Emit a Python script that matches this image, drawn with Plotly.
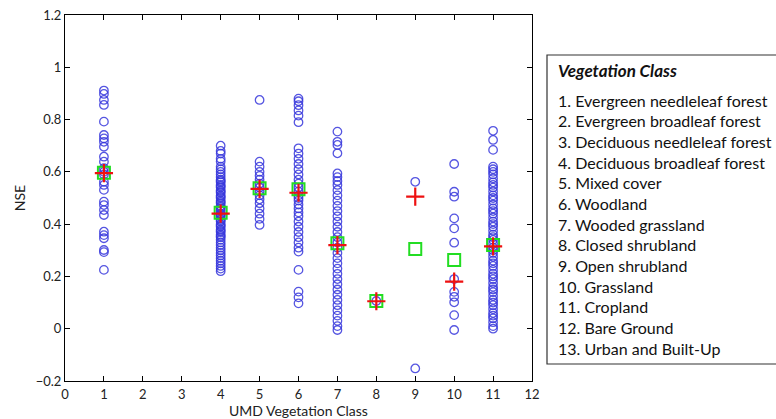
import plotly.graph_objects as go

# ---- data ----
class_ids = [1, 4, 5, 6, 7, 8, 9, 10, 11]

nse_c1 = [0.911, 0.898, 0.875, 0.856, 0.792, 0.741, 0.728, 0.715, 0.696, 0.658, 0.639,
          0.614, 0.60, 0.59, 0.562, 0.55, 0.531, 0.486, 0.473, 0.454, 0.435, 0.371, 0.358,
          0.346, 0.301, 0.293, 0.225]
nse_c4 = [0.70, 0.68, 0.67, 0.65, 0.64, 0.62, 0.61, 0.60, 0.59, 0.58, 0.57, 0.565, 0.56,
          0.55, 0.545, 0.54, 0.53, 0.525, 0.52, 0.51, 0.505, 0.50, 0.49, 0.485, 0.48, 0.47,
          0.465, 0.46, 0.45, 0.44, 0.435, 0.43, 0.42, 0.415, 0.41, 0.40, 0.395, 0.39, 0.38,
          0.375, 0.37, 0.36, 0.355, 0.35, 0.34, 0.33, 0.32, 0.31, 0.30, 0.29, 0.28, 0.27,
          0.26, 0.25, 0.24, 0.23, 0.22]
nse_c5 = [0.875, 0.639, 0.62, 0.60, 0.585, 0.57, 0.555, 0.54, 0.525, 0.51, 0.495, 0.48,
          0.46, 0.44, 0.42, 0.397]
nse_c6 = [0.88, 0.87, 0.855, 0.835, 0.815, 0.79, 0.69, 0.67, 0.65, 0.63, 0.61, 0.59, 0.57,
          0.555, 0.54, 0.525, 0.51, 0.50, 0.49, 0.475, 0.46, 0.445, 0.43, 0.41, 0.39, 0.37,
          0.35, 0.33, 0.31, 0.295, 0.225, 0.142, 0.12, 0.097]
nse_c7 = [0.754, 0.715, 0.703, 0.671, 0.594, 0.58, 0.565, 0.55, 0.53, 0.51, 0.49, 0.47,
          0.45, 0.43, 0.41, 0.39, 0.37, 0.35, 0.33, 0.31, 0.29, 0.27, 0.25, 0.23, 0.21,
          0.19, 0.17, 0.15, 0.13, 0.11, 0.09, 0.07, 0.05, 0.03, 0.01, -0.005]
nse_c8 = [0.106]
nse_c9 = [0.562, -0.152]
nse_c10 = [0.63, 0.524, 0.505, 0.422, 0.384, 0.329, 0.19, 0.141, 0.122, 0.101, 0.052, -0.005]
nse_c11 = [0.757, 0.722, 0.684, 0.62, 0.61, 0.60, 0.59, 0.575, 0.56, 0.55, 0.54, 0.525,
           0.51, 0.50, 0.49, 0.475, 0.46, 0.45, 0.44, 0.425, 0.41, 0.40, 0.39, 0.375, 0.36,
           0.35, 0.34, 0.325, 0.31, 0.30, 0.29, 0.275, 0.26, 0.25, 0.24, 0.225, 0.21, 0.20,
           0.19, 0.175, 0.16, 0.15, 0.14, 0.125, 0.11, 0.10, 0.09, 0.075, 0.06, 0.05, 0.04,
           0.025, 0.01, 0.0]

nse_by_class = [nse_c1, nse_c4, nse_c5, nse_c6, nse_c7, nse_c8, nse_c9, nse_c10, nse_c11]

median_nse = [0.595, 0.44, 0.535, 0.52, 0.32, 0.105, 0.505, 0.18, 0.315]   # red plus
mean_nse = [0.597, 0.444, 0.537, 0.533, 0.327, 0.106, 0.305, 0.263, 0.32]   # green square

x_ticks = list(range(0, 13))
y_ticks = [-0.2, 0, 0.2, 0.4, 0.6, 0.8, 1.0, 1.2]
y_tick_labels = ["\u22120.2", "0", "0.2", "0.4", "0.6", "0.8", "1", "1.2"]

x_title = "UMD Vegetation Class"
y_title = "NSE"
legend_title = "Vegetation Class"
legend_items = ["1. Evergreen needleleaf forest", "2. Evergreen broadleaf forest",
                "3. Deciduous needleleaf forest", "4. Deciduous broadleaf forest",
                "5. Mixed cover", "6. Woodland", "7. Wooded grassland",
                "8. Closed shrubland", "9. Open shrubland", "10. Grassland",
                "11. Cropland", "12. Bare Ground", "13. Urban and Built-Up"]

# ---- figure ----
W, H = 776, 419
ML, MR, MT, MB = 65, 244, 15, 38
pw, ph = W - ML - MR, H - MT - MB

xs, ys = [], []
for c, vals in zip(class_ids, nse_by_class):
    xs += [c] * len(vals)
    ys += vals

fig = go.Figure()
fig.add_trace(go.Scatter(x=xs, y=ys, mode="markers",
                         marker=dict(symbol="circle-open", size=8.5,
                                     color="rgba(55,55,220,0.85)",
                                     line=dict(width=1.3)),
                         showlegend=False, hoverinfo="skip", cliponaxis=False))
fig.add_trace(go.Scatter(x=class_ids, y=mean_nse, mode="markers",
                         marker=dict(symbol="square-open", size=12, color="#22dd22",
                                     line=dict(width=2)),
                         showlegend=False))
fig.add_trace(go.Scatter(x=class_ids, y=median_nse, mode="markers",
                         marker=dict(symbol="cross-thin-open", size=13, color="#ee1111",
                                     line=dict(width=2.2, color="#ee1111")),
                         showlegend=False))

font_family = "Lato, 'Open Sans', sans-serif"
axis_common = dict(showline=True, linecolor="black", linewidth=1, mirror="ticks",
                   ticks="inside", ticklen=5, tickcolor="black", showgrid=False,
                   zeroline=False, automargin=False,
                   tickfont=dict(size=13, color="#222", family=font_family))

fig.update_layout(
    width=W, height=H,
    margin=dict(l=ML, r=MR, t=MT, b=MB, pad=0),
    paper_bgcolor="white", plot_bgcolor="white",
    font=dict(family=font_family, color="#222"),
    xaxis=dict(range=[0, 12], tickvals=x_ticks, ticklabelstandoff=1, **axis_common),
    yaxis=dict(range=[-0.2, 1.2], tickvals=y_ticks, ticktext=y_tick_labels, **axis_common,
               title=dict(text=y_title, font=dict(size=14), standoff=6)),
)

def px_x(p):
    return (p - ML) / pw

def px_y(p):
    return (H - MB - p) / ph

# x-axis title
fig.add_annotation(xref="paper", yref="paper", x=0.5, y=px_y(410),
                   xanchor="center", yanchor="middle", showarrow=False,
                   text=x_title, font=dict(size=14, color="#222", family=font_family))

# legend box
fig.add_shape(type="rect", xref="paper", yref="paper",
              x0=px_x(547), x1=px_x(790), y0=px_y(364), y1=px_y(55),
              line=dict(color="#333", width=1.2), fillcolor="rgba(0,0,0,0)")
fig.add_annotation(xref="paper", yref="paper", x=px_x(556), y=px_y(71),
                   xanchor="left", yanchor="middle", showarrow=False,
                   text="<b><i>" + legend_title + "</i></b>",
                   font=dict(size=17, color="#111", family=font_family))
for i, item in enumerate(legend_items):
    fig.add_annotation(xref="paper", yref="paper", x=px_x(556), y=px_y(100 + i * 20.67),
                       xanchor="left", yanchor="middle", showarrow=False,
                       text=item, font=dict(size=16, color="#111", family=font_family))

fig.write_html("out.html")
